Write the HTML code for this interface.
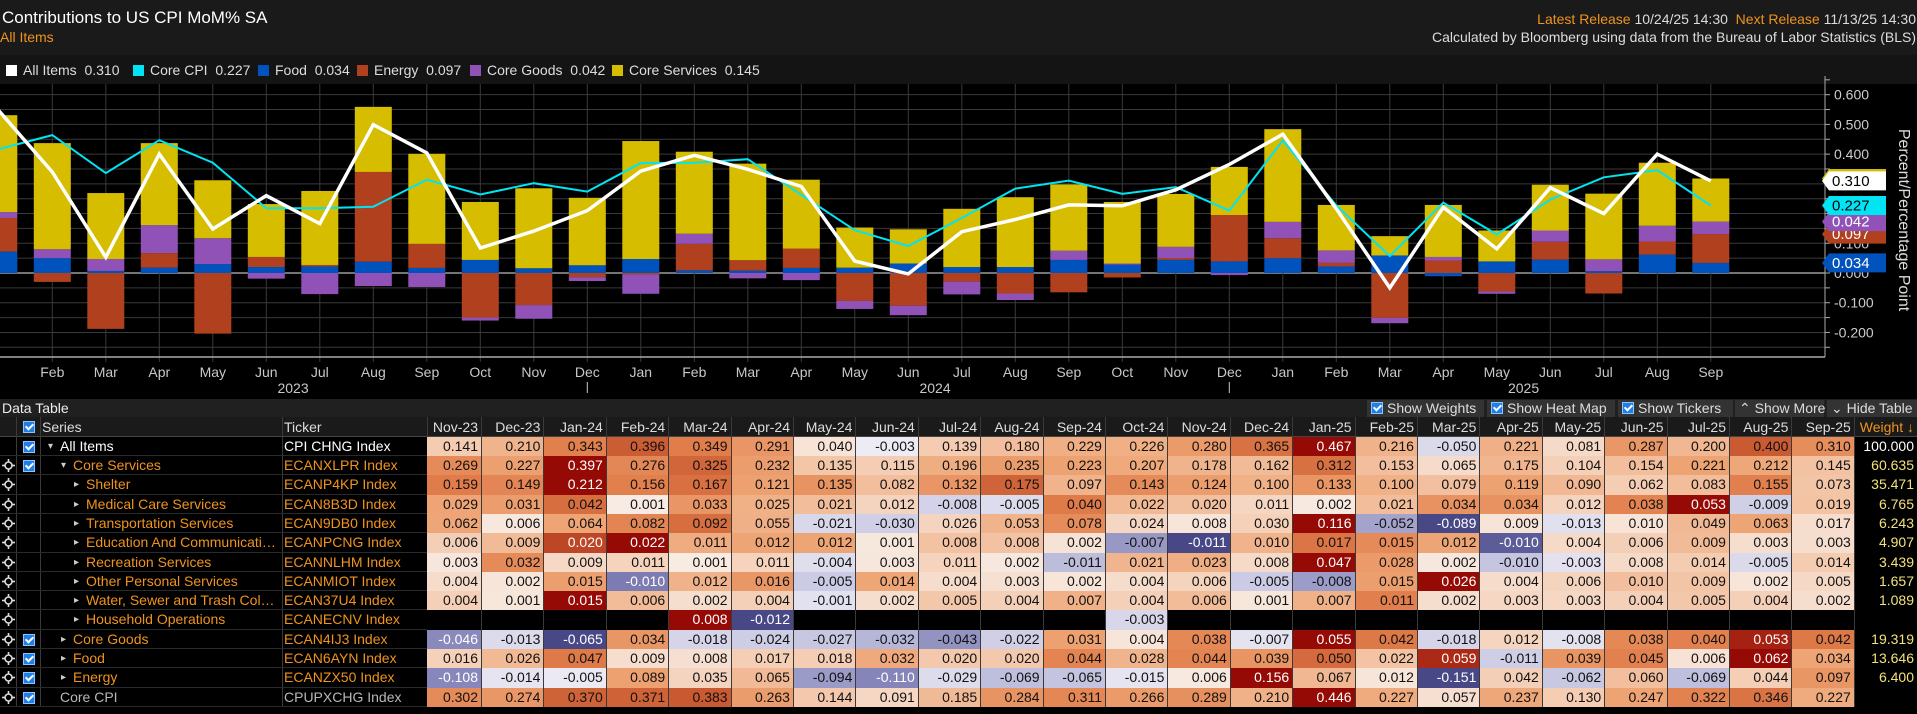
<!DOCTYPE html>
<html><head><meta charset="utf-8">
<style>
html,body{margin:0;padding:0;background:#000;}
body{width:1917px;height:714px;overflow:hidden;position:relative;font-family:"Liberation Sans",sans-serif;color:#ddd;}
.abs{position:absolute;}
.hdr{left:0;top:0;width:1917px;height:55px;background:#1a1a1a;}
.leg{left:0;top:55px;width:1917px;height:29px;background:#141414;}
.legitem{position:absolute;top:62px;font-size:14px;color:#ddd;white-space:nowrap;line-height:16px;}
.legitem i{display:inline-block;width:11px;height:11px;margin-right:6px;vertical-align:-1px;}
.cell{position:absolute;box-sizing:border-box;font-size:14px;line-height:19px;white-space:nowrap;overflow:hidden;}
.num{text-align:right;padding-right:3px;border-right:1px solid #3a3a3a;}
.btn{position:absolute;top:400px;height:17px;background:#333;color:#ddd;font-size:14px;line-height:17px;box-sizing:border-box;padding-left:4px;white-space:nowrap;}
.cb{display:inline-block;width:10px;height:10px;background:#1f7fe6;border:1px solid #8cc4ff;vertical-align:-1px;margin-right:4px;position:relative;}
.cb:after{content:"";position:absolute;left:3px;top:0px;width:3px;height:6px;border:solid #fff;border-width:0 2px 2px 0;transform:rotate(45deg);}
.cbx{position:absolute;width:10px;height:10px;background:#1f7fe6;border:1px solid #8cc4ff;}
.cbx:after{content:"";position:absolute;left:3px;top:0px;width:3px;height:6px;border:solid #fff;border-width:0 2px 2px 0;transform:rotate(45deg);}
.xh{position:absolute;width:13px;height:13px;}
</style></head>
<body>
<div class="abs hdr"></div>
<div class="abs" style="left:2px;top:8px;font-size:17px;color:#fff;">Contributions to US CPI MoM% SA</div>
<div class="abs" style="left:0px;top:29px;font-size:14px;color:#f0931e;">All Items</div>
<div class="abs" style="right:1px;top:11px;font-size:14px;color:#ddd;white-space:nowrap;"><span style="color:#f0931e">Latest Release</span> 10/24/25 14:30&nbsp; <span style="color:#f0931e">Next Release</span> 11/13/25 14:30</div>
<div class="abs" style="right:1px;top:29px;font-size:14px;color:#ddd;white-space:nowrap;">Calculated by Bloomberg using data from the Bureau of Labor Statistics (BLS)</div>
<div class="abs leg"></div>
<div class="legitem" style="left:6px"><i style="background:#fff"></i>All Items&nbsp; 0.310</div>
<div class="legitem" style="left:133px"><i style="background:#00e4f4"></i>Core CPI&nbsp; 0.227</div>
<div class="legitem" style="left:258px"><i style="background:#0052bd"></i>Food&nbsp; 0.034</div>
<div class="legitem" style="left:357px"><i style="background:#b0401e"></i>Energy&nbsp; 0.097</div>
<div class="legitem" style="left:470px"><i style="background:#9152b8"></i>Core Goods&nbsp; 0.042</div>
<div class="legitem" style="left:612px"><i style="background:#d6bd00"></i>Core Services&nbsp; 0.145</div>

<svg id="chart" class="abs" style="left:0;top:0" width="1917" height="398"></svg>

<div class="abs" style="left:0;top:399px;width:1917px;height:18px;background:#202020;"></div>
<div class="abs" style="left:2px;top:399px;font-size:14px;line-height:18px;color:#eee;">Data Table</div>
<div class="btn" style="left:1367px;width:117px"><span class="cb"></span>Show Weights</div>
<div class="btn" style="left:1487px;width:128px"><span class="cb"></span>Show Heat Map</div>
<div class="btn" style="left:1618px;width:115px"><span class="cb"></span>Show Tickers</div>
<div class="btn" style="left:1735px;width:89px">&#8963; Show More</div>
<div class="btn" style="left:1827px;width:90px">&#8964; Hide Table</div>
<div id="table"></div>

<script>
// ---------------- CHART DATA ----------------
const chartMonths = ["Jan","Feb","Mar","Apr","May","Jun","Jul","Aug","Sep","Oct","Nov","Dec","Jan","Feb","Mar","Apr","May","Jun","Jul","Aug","Sep","Oct","Nov","Dec","Jan","Feb","Mar","Apr","May","Jun","Jul","Aug","Sep"];
const yearLabels = ["2023","2024","2025"];
const foodSeries = [0.072,0.050,0.007,0.018,0.030,0.020,0.022,0.038,0.017,0.044,0.016,0.026,0.047,0.009,0.008,0.017,0.018,0.032,0.020,0.020,0.044,0.028,0.044,0.039,0.050,0.022,0.059,-0.011,0.039,0.045,0.006,0.062,0.034];
const energySeries = [0.113,-0.030,-0.188,0.049,-0.204,0.034,0.005,0.302,0.081,-0.150,-0.108,-0.014,-0.005,0.089,0.035,0.065,-0.094,-0.110,-0.029,-0.069,-0.065,-0.015,0.006,0.156,0.067,0.012,-0.151,0.042,-0.062,0.060,-0.069,0.044,0.097];
const coreGoodsSeries = [0.020,0.030,0.040,0.094,0.087,-0.019,-0.071,-0.044,-0.047,-0.010,-0.046,-0.013,-0.065,0.034,-0.018,-0.024,-0.027,-0.032,-0.043,-0.022,0.031,0.004,0.038,-0.007,0.055,0.042,-0.018,0.012,-0.008,0.038,0.040,0.053,0.042];
const coreServicesSeries = [0.326,0.357,0.222,0.276,0.195,0.178,0.249,0.219,0.303,0.195,0.269,0.227,0.397,0.276,0.325,0.232,0.135,0.115,0.196,0.235,0.223,0.207,0.178,0.162,0.312,0.153,0.065,0.175,0.104,0.154,0.221,0.212,0.145];
const allItemsSeries = [0.546,0.340,0.053,0.400,0.148,0.260,0.166,0.499,0.404,0.084,0.141,0.210,0.343,0.396,0.349,0.291,0.040,-0.003,0.139,0.180,0.229,0.226,0.280,0.365,0.467,0.216,-0.050,0.221,0.081,0.287,0.200,0.400,0.310];
const coreCpiSeries = [0.417,0.464,0.336,0.447,0.371,0.218,0.218,0.223,0.314,0.264,0.302,0.274,0.370,0.371,0.383,0.263,0.144,0.091,0.185,0.284,0.311,0.266,0.289,0.210,0.446,0.227,0.057,0.237,0.130,0.247,0.322,0.346,0.227];
const yTicks = [0.6,0.5,0.4,0.3,0.2,0.1,0.0,-0.1,-0.2];

const NS="http://www.w3.org/2000/svg";
const svg=document.getElementById('chart');
const plotL=0, plotR=1825, plotT=84, plotB=357;
function xScale(i){return -1.2+53.5*i;}
function yScale(v){return 273-v*297.2;}
function mk(tag,attrs){const e=document.createElementNS(NS,tag);for(const k in attrs)e.setAttribute(k,attrs[k]);svg.appendChild(e);return e;}

for(let v=-0.25; v<=0.651; v+=0.05){
  const y=yScale(v);
  if(y<plotT||y>plotB) continue;
  const g=mk('line',{x1:plotL,x2:plotR,y1:y,y2:y,stroke:Math.abs(v)<1e-6?'#9a9a9a':'#3a3a3a','stroke-width':Math.abs(v)<1e-6?1.5:1});
  
  
}
for(let i=1;i<chartMonths.length;i++){
  const x=xScale(i);
  const g=mk('line',{x1:x,x2:x,y1:plotT,y2:plotB+5,stroke:'#3a3a3a','stroke-width':1});
  
  
}
const xAxis=mk('line',{x1:plotL,x2:plotR,y1:plotB,y2:plotB,stroke:'#aaa','stroke-width':1.5});



const barW=37;
const stackDefs=[[foodSeries,'#0052bd','food'],[energySeries,'#b0401e','energy'],[coreGoodsSeries,'#9152b8','core-goods'],[coreServicesSeries,'#d6bd00','core-services']];
for(let i=0;i<chartMonths.length;i++){
  let pos=0,neg=0;
  for(const [arr,col,nm] of stackDefs){
    const v=arr[i]; let y0,y1;
    if(v>=0){y0=pos;y1=pos+v;pos=y1;}else{y0=neg;y1=neg+v;neg=y1;}
    const top=yScale(Math.max(y0,y1)), bot=yScale(Math.min(y0,y1));
    const r=mk('rect',{x:xScale(i)-barW/2,y:top,width:barW,height:Math.max(0,bot-top),fill:col});
    
    
  }
}
function line(arr,col,w,nm){
  let d='';
  arr.forEach((v,i)=>{d+=(i?'L':'M')+xScale(i).toFixed(1)+','+yScale(v).toFixed(1);});
  const p=mk('path',{d:d,fill:'none',stroke:col,'stroke-width':w,'stroke-linejoin':'miter'});
  
  
}
line(coreCpiSeries,'#00e4f4',2,'line-core-cpi');
line(allItemsSeries,'#ffffff',3.5,'line-all-items');

const yAxis=mk('line',{x1:plotR,x2:plotR,y1:plotT-8,y2:plotB,stroke:'#aaa','stroke-width':1});


for(let v=-0.25; v<=0.651; v+=0.05){
  const y=yScale(v); if(y<plotT-8||y>plotB) continue;
  const t=mk('line',{x1:plotR,x2:plotR+5,y1:y,y2:y,stroke:'#aaa'});
  
  
}
yTicks.forEach(v=>{
  const t=mk('text',{x:plotR+9,y:yScale(v)+5,fill:'#ccc','font-size':14,'font-family':'Liberation Sans, sans-serif'});
  t.textContent=v.toFixed(3);
  
  
});
const yt=mk('text',{x:0,y:0,fill:'#ddd','font-size':16,'font-family':'Liberation Sans, sans-serif','text-anchor':'middle',transform:'translate(1899,220) rotate(90)'});
yt.textContent='Percent/Percentage Point';



for(let i=1;i<chartMonths.length;i++){
  const t=mk('text',{x:xScale(i),y:377,fill:'#c8c8c8','font-size':14,'font-family':'Liberation Sans, sans-serif','text-anchor':'middle'});
  t.textContent=chartMonths[i];
  
  
}
const yearMid=[5.5,17.5,28.5];
yearLabels.forEach((y,k)=>{
  const t=mk('text',{x:xScale(yearMid[k]),y:393,fill:'#c8c8c8','font-size':14,'font-family':'Liberation Sans, sans-serif','text-anchor':'middle'});
  t.textContent=y;
  
  
});
[11,23].forEach(i=>{
  const l=mk('line',{x1:xScale(i),x2:xScale(i),y1:382,y2:393,stroke:'#c8c8c8'});
  
  
});

const last=chartMonths.length-1;
const fL=foodSeries[last], eL=energySeries[last], gL=coreGoodsSeries[last], sL=coreServicesSeries[last];
const tags=[
  [fL+eL+gL+sL, sL, '#d6bd00','#000','tag-core-services'],
  [fL, fL, '#0052bd','#fff','tag-food'],
  [fL+eL, eL, '#b0401e','#fff','tag-energy'],
  [fL+eL+gL, gL, '#9152b8','#fff','tag-core-goods'],
  [coreCpiSeries[last], coreCpiSeries[last], '#00e4f4','#000','tag-core-cpi'],
  [allItemsSeries[last], allItemsSeries[last], '#ffffff','#000','tag-all-items']
];
tags.forEach(([pv,lab,bg,fg,nm])=>{
  const y=yScale(pv);
  const p=mk('polygon',{points:`${plotR-3},${y} ${plotR+4},${y-9.5} ${plotR+61},${y-9.5} ${plotR+61},${y+9.5} ${plotR+4},${y+9.5}`,fill:bg});
  
  
  const t=mk('text',{x:plotR+7,y:y+5,fill:fg,'font-size':15,'font-family':'Liberation Sans, sans-serif'});
  t.textContent=lab.toFixed(3);
  
  
});

// ---------------- TABLE DATA ----------------
const tableCols=["Nov-23","Dec-23","Jan-24","Feb-24","Mar-24","Apr-24","May-24","Jun-24","Jul-24","Aug-24","Sep-24","Oct-24","Nov-24","Dec-24","Jan-25","Feb-25","Mar-25","Apr-25","May-25","Jun-25","Jul-25","Aug-25","Sep-25"];
const rowNames=["All Items","Core Services","Shelter","Medical Care Services","Transportation Services","Education And Communicati\u2026","Recreation Services","Other Personal Services","Water, Sewer and Trash Col\u2026","Household Operations","Core Goods","Food","Energy","Core CPI"];
const rowTickers=["CPI CHNG Index","ECANXLPR Index","ECANP4KP Index","ECAN8B3D Index","ECAN9DB0 Index","ECANPCNG Index","ECANNLHM Index","ECANMIOT Index","ECAN37U4 Index","ECANECNV Index","ECAN4IJ3 Index","ECAN6AYN Index","ECANZX50 Index","CPUPXCHG Index"];
const rowWeights=["100.000","60.635","35.471","6.765","6.243","4.907","3.439","1.657","1.089","","19.319","13.646","6.400",""];
const rowLevel=[0,1,2,2,2,2,2,2,2,2,1,1,1,0];
const rowArrow=["\u25BE","\u25BE","\u25B8","\u25B8","\u25B8","\u25B8","\u25B8","\u25B8","\u25B8","\u25B8","\u25B8","\u25B8","\u25B8",""];
const rowCheck=[1,1,0,0,0,0,0,0,0,0,1,1,1,1];
const rowAllItems=[0.141,0.210,0.343,0.396,0.349,0.291,0.040,-0.003,0.139,0.180,0.229,0.226,0.280,0.365,0.467,0.216,-0.050,0.221,0.081,0.287,0.200,0.400,0.310];
const rowCoreServices=[0.269,0.227,0.397,0.276,0.325,0.232,0.135,0.115,0.196,0.235,0.223,0.207,0.178,0.162,0.312,0.153,0.065,0.175,0.104,0.154,0.221,0.212,0.145];
const rowShelter=[0.159,0.149,0.212,0.156,0.167,0.121,0.135,0.082,0.132,0.175,0.097,0.143,0.124,0.100,0.133,0.100,0.079,0.119,0.090,0.062,0.083,0.155,0.073];
const rowMedical=[0.029,0.031,0.042,0.001,0.033,0.025,0.021,0.012,-0.008,-0.005,0.040,0.022,0.020,0.011,0.002,0.021,0.034,0.034,0.012,0.038,0.053,-0.009,0.019];
const rowTransport=[0.062,0.006,0.064,0.082,0.092,0.055,-0.021,-0.030,0.026,0.053,0.078,0.024,0.008,0.030,0.116,-0.052,-0.089,0.009,-0.013,0.010,0.049,0.063,0.017];
const rowEducation=[0.006,0.009,0.020,0.022,0.011,0.012,0.012,0.001,0.008,0.008,0.002,-0.007,-0.011,0.010,0.017,0.015,0.012,-0.010,0.004,0.006,0.009,0.003,0.003];
const rowRecreation=[0.003,0.032,0.009,0.011,0.001,0.011,-0.004,0.003,0.011,0.002,-0.011,0.021,0.023,0.008,0.047,0.028,0.002,-0.010,-0.003,0.008,0.014,-0.005,0.014];
const rowOtherPersonal=[0.004,0.002,0.015,-0.010,0.012,0.016,-0.005,0.014,0.004,0.003,0.002,0.004,0.006,-0.005,-0.008,0.015,0.026,0.004,0.006,0.010,0.009,0.002,0.005];
const rowWater=[0.004,0.001,0.015,0.006,0.002,0.004,-0.001,0.002,0.005,0.004,0.007,0.004,0.006,0.001,0.007,0.011,0.002,0.003,0.003,0.004,0.005,0.004,0.002];
const rowHousehold=[null,null,null,null,0.008,-0.012,null,null,null,null,null,-0.003,null,null,null,null,null,null,null,null,null,null,null];
const rowCoreGoods=[-0.046,-0.013,-0.065,0.034,-0.018,-0.024,-0.027,-0.032,-0.043,-0.022,0.031,0.004,0.038,-0.007,0.055,0.042,-0.018,0.012,-0.008,0.038,0.040,0.053,0.042];
const rowFood=[0.016,0.026,0.047,0.009,0.008,0.017,0.018,0.032,0.020,0.020,0.044,0.028,0.044,0.039,0.050,0.022,0.059,-0.011,0.039,0.045,0.006,0.062,0.034];
const rowEnergy=[-0.108,-0.014,-0.005,0.089,0.035,0.065,-0.094,-0.110,-0.029,-0.069,-0.065,-0.015,0.006,0.156,0.067,0.012,-0.151,0.042,-0.062,0.060,-0.069,0.044,0.097];
const rowCoreCpi=[0.302,0.274,0.370,0.371,0.383,0.263,0.144,0.091,0.185,0.284,0.311,0.266,0.289,0.210,0.446,0.227,0.057,0.237,0.130,0.247,0.322,0.346,0.227];
const tableRows=[rowAllItems,rowCoreServices,rowShelter,rowMedical,rowTransport,rowEducation,rowRecreation,rowOtherPersonal,rowWater,rowHousehold,rowCoreGoods,rowFood,rowEnergy,rowCoreCpi];

const tbl=document.getElementById('table');
const rowTop0=436.7, rowH=19.3;
const colStart=427, col0W=55, colW=62.4;
function colX(c){return c===0?colStart:colStart+col0W+(c-1)*colW;}
function colWd(c){return c===0?col0W:colW;}
function lerp(stops,t){
  t=Math.max(0,Math.min(1,t));
  for(let k=1;k<stops.length;k++){
    if(t<=stops[k][0]){const a=stops[k-1],b=stops[k];const f=(t-a[0])/(b[0]-a[0]);
      return 'rgb('+[0,1,2].map(j=>Math.round(a[1][j]+(b[1][j]-a[1][j])*f)).join(',')+')';}
  }
  const s=stops[stops.length-1][1];return 'rgb('+s.join(',')+')';
}
const posStops=[[0,[248,237,230]],[0.3,[244,204,178]],[0.55,[238,164,116]],[0.75,[224,124,74]],[0.9,[192,76,40]],[1,[150,10,5]]];
const negStops=[[0,[238,236,244]],[0.4,[202,202,228]],[0.75,[128,128,182]],[1,[72,72,135]]];

function addDiv(cls,style,text){
  const d=document.createElement('div');
  d.className=cls; d.setAttribute('style',style);
  if(text!==undefined) d.textContent=text;
  tbl.appendChild(d);
  return d;
}
let h=addDiv('cell','left:0;top:417px;width:1917px;height:20px;background:#1a1a1a;border-bottom:1px solid #444;');


h=addDiv('cell','left:42px;top:417px;width:230px;height:20px;color:#ddd;line-height:20px;','Series');


h=addDiv('cell','left:284px;top:417px;width:140px;height:20px;color:#ddd;line-height:20px;','Ticker');


tableCols.forEach((c,ci)=>{
  const d=addDiv('cell num','left:'+colX(ci)+'px;top:417px;width:'+colWd(ci)+'px;height:20px;color:#ddd;line-height:20px;',c);
  
  
});
h=addDiv('cell num','left:1855px;top:417px;width:62px;height:20px;color:#f0931e;line-height:20px;border-right:none;','Weight \u2193');


h=addDiv('cbx','left:23px;top:421px;');



function crosshair(top){
  const d=addDiv('xh','left:2px;top:'+(top+3)+'px;');
  d.innerHTML='<svg width="13" height="13"><circle cx="6.5" cy="6.5" r="3.5" fill="none" stroke="#ddd" stroke-width="1.6"/><line x1="6.5" y1="0" x2="6.5" y2="3" stroke="#ddd" stroke-width="1.6"/><line x1="6.5" y1="10" x2="6.5" y2="13" stroke="#ddd" stroke-width="1.6"/><line x1="0" y1="6.5" x2="3" y2="6.5" stroke="#ddd" stroke-width="1.6"/><line x1="10" y1="6.5" x2="13" y2="6.5" stroke="#ddd" stroke-width="1.6"/></svg>';
  return d;
}
[16,40,282,427].forEach(x=>{
  const d=addDiv('cell','left:'+x+'px;top:417px;width:1px;height:290px;background:#3a3a3a;');
  
  
});

tableRows.forEach((vals,r)=>{
  const top=rowTop0+r*rowH;
  const nameColor = r===0?'#fff':(r===13?'#b8b8b8':'#f0931e');
  const sep=addDiv('cell','left:0;top:'+(top+rowH-1)+'px;width:427px;height:1px;background:#2a2a2a;');
  
  
  if(r!==0){const x=crosshair(top);
    
    }
  if(rowCheck[r]){const c=addDiv('cbx','left:23px;top:'+(top+4)+'px;');
    
    }
  const indent=[48,61,74][rowLevel[r]];
  if(rowArrow[r]){const a=addDiv('cell','left:'+indent+'px;top:'+top+'px;width:12px;height:19px;font-size:10px;color:#ccc;',rowArrow[r]);
    
    }
  const textLeft = r===13?60:indent+12;
  const n=addDiv('cell','left:'+textLeft+'px;top:'+top+'px;width:'+(282-textLeft)+'px;height:19px;color:'+nameColor+';',rowNames[r]);
  
  
  const tk=addDiv('cell','left:284px;top:'+top+'px;width:142px;height:19px;color:'+nameColor+';',rowTickers[r]);
  
  
  const nums=vals.filter(v=>v!==null);
  const pmax=Math.max(0.0001,...nums.filter(v=>v>0));
  const nmin=Math.max(0.5*pmax,...nums.filter(v=>v<0).map(v=>-v));
  vals.forEach((v,ci)=>{
    let bg='#000',fg='#000',txt='';
    if(v!==null){
      txt=v.toFixed(3);
      if(v>=0){const t=v/pmax;bg=lerp(posStops,t);fg=t>0.9?'#fff':'#111';}
      else{const t=-v/nmin;bg=lerp(negStops,t);fg=t>0.7?'#fff':'#111';}
    }
    const c=addDiv('cell num','left:'+colX(ci)+'px;top:'+top+'px;width:'+colWd(ci)+'px;height:'+(rowH+0.5)+'px;background:'+bg+';color:'+fg+';',txt);
    
    
  });
  const w=addDiv('cell num','left:1855px;top:'+top+'px;width:62px;height:19px;color:'+(r===0?'#fff':'#f3e27a')+';border-right:none;',rowWeights[r]);
  
  
});
</script>
</body></html>
